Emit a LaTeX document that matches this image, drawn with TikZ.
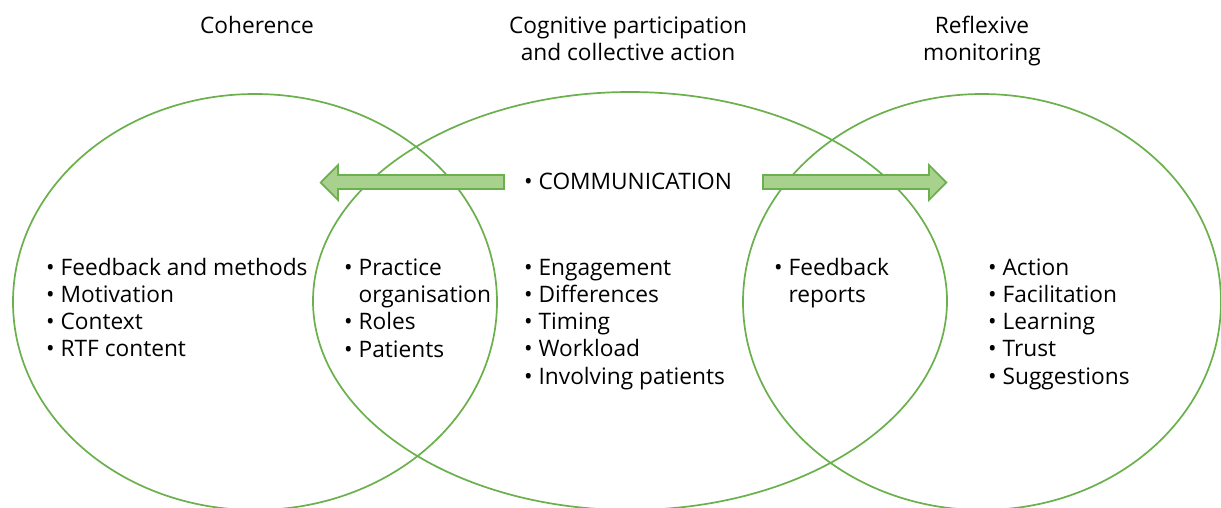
\documentclass[tikz,border=0pt]{standalone}
\usepackage{fontspec}
\setmainfont{Open Sans}
\definecolor{egreen}{HTML}{6AB04C}
\definecolor{afill}{HTML}{A9D18E}
\begin{document}
\begin{tikzpicture}[x=1pt,y=-1pt,
  ring/.style={draw=egreen,line width=1.7pt},
  arrowshape/.style={draw=egreen,fill=afill,line width=1.7pt,line join=miter},
  item/.style={anchor=base west,inner sep=0pt,font=\fontsize{22.7}{27}\selectfont},
  title/.style={anchor=base,inner sep=0pt,font=\fontsize{22.7}{27}\selectfont}]
\useasboundingbox (0,0) rectangle (1221,507);
\fill[white] (0,0) rectangle (1221,507);
\begin{scope}
\clip (0,0) rectangle (1221,507);
\draw[ring] (255,302) ellipse [x radius=242, y radius=208];
\draw[ring] (630,301) ellipse [x radius=317, y radius=209];
\draw[ring] (982,302) ellipse [x radius=239, y radius=208];
\end{scope}
% arrows
\path[arrowshape] (504,175) -- (338,175) -- (338,165) -- (320.7,182.5) -- (338,200) -- (338,189) -- (504,189) -- cycle;
\path[arrowshape] (763,175) -- (929,175) -- (929,165) -- (946.3,182.5) -- (929,200) -- (929,189) -- (763,189) -- cycle;
% titles
\node[title] (t1) at (257,33) {Coherence};
\node[title] (t2a) at (628,33) {Cognitive participation};
\node[title] (t2b) at (628,60) {and collective action};
\node[title] (t3a) at (982,33) {Reflexive};
\node[title] (t3b) at (982,60) {monitoring};
\node[item] (comm) at (524,189) {• COMMUNICATION};
% lists
\foreach \t [count=\i] in {Feedback and methods,Motivation,Context,RTF content}
  \node[item] (a\i) at (46,{275+27.3*(\i-1)}) {• \t};
\node[item] (b1) at (344,275) {• Practice};
\node[item] (b2) at (344,302.3) {\phantom{• }organisation};
\node[item] (b3) at (344,329.6) {• Roles};
\node[item] (b4) at (344,357) {• Patients};
\foreach \t [count=\i] in {Engagement,Differences,Timing,Workload,Involving patients}
  \node[item] (c\i) at (524,{275+27.3*(\i-1)}) {• \t};
\node[item] (d1) at (774,275) {• Feedback};
\node[item] (d2) at (774,302.3) {\phantom{• }reports};
\foreach \t [count=\i] in {Action,Facilitation,Learning,Trust,Suggestions}
  \node[item] (e\i) at (988,{275+27.3*(\i-1)}) {• \t};
\end{tikzpicture}
\end{document}
